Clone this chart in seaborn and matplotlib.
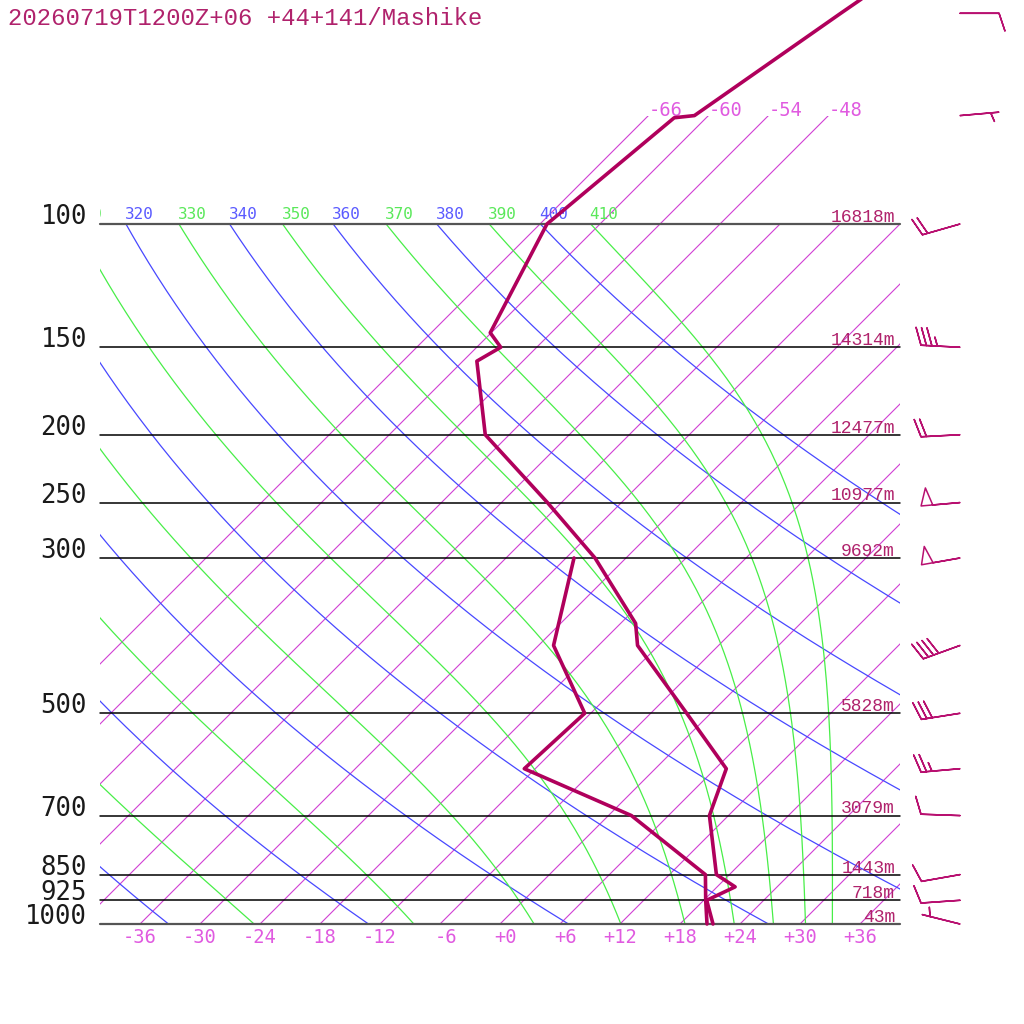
import numpy as np
import pandas as pd
import matplotlib
matplotlib.use("Agg")
import matplotlib.pyplot as plt
from matplotlib.patches import Polygon, Rectangle
from matplotlib.transforms import offset_copy
import seaborn as sns


TITLE = "20260719T1200Z+06 +44+141/Mashike"

# standard levels drawn as horizontal lines, with geopotential heights
LEVELS = [100, 150, 200, 250, 300, 500, 700, 850, 925, 1000]
HEIGHTS = [16818, 14314, 12477, 10977, 9692, 5828, 3079, 1443, 718, 43]

# background grid of the diagram
ISOTHERMS = [-66, -60, -54, -48, -42, -36, -30, -24, -18, -12, -6, 0,
             6, 12, 18, 24, 30, 36]
ISOTHERM_TICKS = [-36, -30, -24, -18, -12, -6, 0, 6, 12, 18, 24, 30, 36]
ISOTHERMS_HIGH = [-66, -60, -54, -48]
DRY_THETA = [240, 260, 280, 300, 320, 340, 360, 380, 400]
MOIST_THETA = [250, 270, 290, 310, 330, 350, 370, 390, 410]

# sounding
P_TEMP = [1000, 925, 885, 850, 700, 600, 500, 400, 372, 300, 250, 200,
          157, 150, 143, 100, 70.5, 70, 50, 30]
TEMP = [21.3, 18.3, 19.8, 16.7, 10.1, 7.1, -2.4, -14.1, -16.5, -27.1, -37.4,
        -50.4, -58.6, -57.6, -60.1, -65.3, -63.2, -61.4, -57.0, -50.0]
P_DEW = [1000, 925, 850, 700, 600, 500, 400, 300]
DEW = [20.7, 18.2, 15.6, 2.3, -13.1, -12.6, -22.5, -29.2]

# winds (direction from, knots)
P_WIND = [1000, 925, 850, 700, 600, 500, 400, 300, 250, 200, 150, 100, 70, 50]
WDIR = [284, 266, 260, 272, 265, 261, 250, 260, 265, 267, 273, 254, 85, 90]
WSPD = [5, 10, 10, 10, 25, 30, 40, 50, 50, 20, 35, 20, 5, 10]

K = 30.4  # x shift (deg) per unit of ln(1000/p)

ISO_COLOR = "#d040d4"
ISO_LABEL = "#e05ae0"
DRY_COLOR = "#4848ff"
MOIST_COLOR = "#48ee48"
PROFILE_COLOR = "#b0005c"
DARK_TEXT = "#b0226c"
WIND_COLOR = "#b81070"


def skew(t, p):
    return np.asarray(t, dtype=float) + K * np.log(1000.0 / np.asarray(p, dtype=float))


def theta_e_sat(tc, p):
    tk = tc + 273.15
    es = 6.112 * np.exp(17.67 * tc / (tc + 243.5))
    r = 622.0 * es / np.maximum(p - es, 1e-3)
    return (tk * (1000.0 / p) ** (0.2854 * (1 - 0.00028 * r))
            * np.exp((3.376 / tk - 0.00254) * r * (1 + 0.00081 * r)))


def moist_adiabat(theta_e, p):
    lo = np.full_like(p, -140.0)
    hi = np.full_like(p, 40.0)
    for _ in range(50):
        mid = 0.5 * (lo + hi)
        above = theta_e_sat(mid, p) > theta_e
        hi = np.where(above, mid, hi)
        lo = np.where(above, lo, mid)
    return 0.5 * (lo + hi)


def clip_region(ax, x0, x1, p0, p1):
    return Polygon([(x0, p0), (x1, p0), (x1, p1), (x0, p1)], closed=True,
                   transform=ax.transData, fill=False)


def main():
    sns.set_style("white")
    plt.rcParams["font.family"] = ["DejaVu Sans Mono", "DejaVu Sans"]

    fig = plt.figure(figsize=(10.24, 10.24), dpi=100)
    ax = fig.add_axes([0, 0, 1, 1])
    ax.set_yscale("log")
    ax.set_xlim(-50, 52.4)
    ax.set_ylim(1000 * np.exp(100 / 304), 1000 * np.exp(-924 / 304))
    ax.axis("off")

    box = clip_region(ax, -40, 40, 1000, 100)
    box_high = clip_region(ax, -40, 40, 1000, 70)
    label_clip = Rectangle((-40, 40), 80, 1400, transform=ax.transData,
                           fill=False)

    # isotherms
    for t in ISOTHERMS:
        top = 70 if t in ISOTHERMS_HIGH else 100
        pp = np.array([1000.0, top])
        line, = ax.plot(skew([t, t], pp), pp, color=ISO_COLOR, lw=0.8,
                        zorder=1)
        line.set_clip_path(box_high)
    for t in ISOTHERM_TICKS:
        ax.text(t + 1.7, 1063.4, f"{t:+d}", ha="right", va="baseline",
                fontsize=13.5, color=ISO_LABEL)
    for t in ISOTHERMS_HIGH:
        ax.text(skew(t, 70), 70, f"{t:+d}", ha="left", va="baseline",
                fontsize=13.5, color=ISO_LABEL)

    pp = np.geomspace(1000, 100, 200)

    def label_adiabat(x, th, color):
        if x < -43:
            return
        lab = ax.text(x - 0.1, 98.4, str(th), ha="left", va="baseline",
                      fontsize=11.5, color=color, clip_on=True)
        lab.set_clip_path(label_clip)

    # dry adiabats
    for th in DRY_THETA:
        tt = th * (pp / 1000.0) ** 0.2857 - 273.15
        line, = ax.plot(skew(tt, pp), pp, color=DRY_COLOR, lw=0.9, zorder=2)
        line.set_clip_path(box)
        label_adiabat(skew(tt[-1], 100), th, "#5a5aff")

    # saturated (pseudo) adiabats
    for th in MOIST_THETA:
        tt = moist_adiabat(th, pp)
        line, = ax.plot(skew(tt, pp), pp, color=MOIST_COLOR, lw=0.9, zorder=2)
        line.set_clip_path(box)
        label_adiabat(skew(tt[-1], 100), th, "#5ae85a")

    # pressure levels
    above = offset_copy(ax.transData, fig=fig, y=1.5, units="points")
    for p, h in zip(LEVELS, HEIGHTS):
        edge = p in (100, 1000)
        ax.plot([-40, 40], [p, p], color="#555555" if edge else "black",
                lw=1.6 if edge else 1.1, zorder=3)
        ax.text(-41.3, p, str(p), ha="right", va="baseline",
                fontsize=18.5, color="#1a1a1a", fontweight="light")
        ax.text(39.5, p, f"{h}m", ha="right", va="baseline",
                fontsize=13, color=DARK_TEXT, family="Liberation Mono",
                transform=above, zorder=4)

    # temperature and dew point
    df_t = pd.DataFrame({"x": skew(TEMP, P_TEMP), "p": P_TEMP})
    df_d = pd.DataFrame({"x": skew(DEW, P_DEW), "p": P_DEW})
    for df in (df_t, df_d):
        sns.lineplot(data=df, x="x", y="p", sort=False, estimator=None,
                     color=PROFILE_COLOR, lw=2.6, ax=ax, zorder=5)

    # wind barbs
    rad = np.deg2rad(WDIR)
    spd = np.asarray(WSPD, dtype=float)
    u = -spd * np.sin(rad)
    v = -spd * np.cos(rad)
    ax.barbs(np.full(len(P_WIND), 46.0), P_WIND, u, v, length=7.5,
             barbcolor=WIND_COLOR, flagcolor="none", linewidth=1.1,
             sizes=dict(spacing=0.14, height=0.45, width=0.3), zorder=5)

    ax.set_xlim(-50, 52.4)
    ax.set_ylim(1000 * np.exp(100 / 304), 1000 * np.exp(-924 / 304))
    ax.axis("off")

    ax.text(8 / 1024, 1 - 25 / 1024, TITLE, transform=ax.transAxes,
            ha="left", va="baseline", fontsize=17.2, color=DARK_TEXT,
            family="Liberation Mono")

    fig.savefig("out.png", dpi=100, facecolor="white")
    plt.close(fig)


if __name__ == "__main__":
    main()
